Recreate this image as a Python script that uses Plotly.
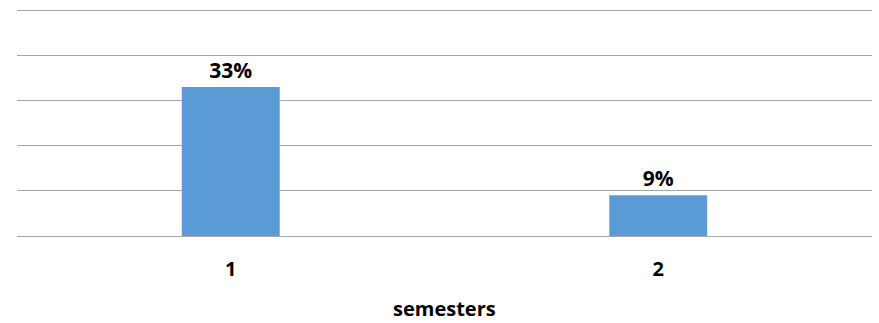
import plotly.graph_objects as go

# Share of students by number of semesters
semesters = ["1", "2"]
shares = [0.33, 0.09]
value_labels = ["33%", "9%"]
x_title = "semesters"

BAR_COLOR = "#5B9BD5"
GRID_COLOR = "#A6A6A6"
FONT = "Open Sans"

fig = go.Figure(
    go.Bar(
        x=semesters,
        y=shares,
        marker=dict(color=BAR_COLOR, line=dict(width=0)),
        text=value_labels,
        texttemplate="%{text}",
        textposition="outside",
        textfont=dict(family=FONT, size=21, color="#000000", weight="bold"),
        cliponaxis=False,
    )
)

fig.update_layout(
    width=879,
    height=323,
    margin=dict(l=17, r=7, t=8, b=86.5),
    plot_bgcolor="white",
    paper_bgcolor="white",
    bargap=0.771,
    showlegend=False,
    font=dict(family=FONT, color="#000000"),
)

# Axis title placed below the category labels
fig.add_annotation(
    text=x_title,
    xref="paper",
    yref="paper",
    x=0.5,
    y=0,
    yshift=-72,
    xanchor="center",
    yanchor="middle",
    borderpad=0,
    showarrow=False,
    font=dict(family=FONT, size=20, color="#000000", weight="bold"),
)

fig.update_xaxes(
    type="category",
    automargin=False,
    showgrid=False,
    showline=False,
    ticks="",
    tickfont=dict(family=FONT, size=20, color="#000000", weight="bold"),
    ticklabelstandoff=19,
)

fig.update_yaxes(
    range=[0, 0.505],
    dtick=0.1,
    automargin=False,
    showticklabels=False,
    showgrid=True,
    gridcolor=GRID_COLOR,
    gridwidth=1,
    zeroline=True,
    zerolinecolor=GRID_COLOR,
    zerolinewidth=1,
    showline=False,
    ticks="",
)

fig.write_html("out.html")
